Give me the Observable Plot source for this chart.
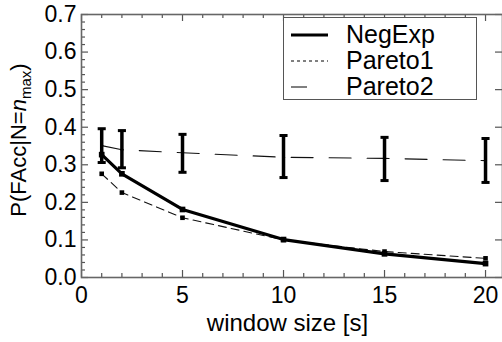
<!DOCTYPE html>
<html><head><meta charset="utf-8">
<script src="https://cdn.jsdelivr.net/npm/d3@7"></script>
<script src="https://cdn.jsdelivr.net/npm/@observablehq/plot@0.6"></script>
<style>
html,body{margin:0;padding:0;background:#fff;}
#wrap{position:relative;width:502px;height:342px;overflow:hidden;font-family:"Liberation Sans",Arial,sans-serif;}
#legend{position:absolute;left:283px;top:17px;width:194px;height:83px;border:1px solid #555;background:#fff;box-sizing:border-box;}
.row{position:absolute;left:0;height:26px;width:100%;}
.row svg{position:absolute;left:6px;top:0;}
.row span{position:absolute;left:62px;top:0;font-size:25px;line-height:26px;color:#000;}
</style></head>
<body><div id="wrap"></div>
<script>
const windowSize = [1, 2, 5, 10, 15, 20];
const negExp  = [0.327, 0.276, 0.181, 0.101, 0.063, 0.037];
const pareto1 = [0.276, 0.226, 0.159, 0.100, 0.069, 0.051];
const pareto2 = [0.351, 0.340, 0.332, 0.320, 0.317, 0.311];
const pareto2Lo = [0.306, 0.292, 0.280, 0.266, 0.258, 0.253];
const pareto2Hi = [0.396, 0.391, 0.381, 0.378, 0.373, 0.370];
const xTicks = [0, 5, 10, 15, 20];
const xMinor = d3.range(0, 21, 1);
const yTicks = [0, 0.1, 0.2, 0.3, 0.4, 0.5, 0.6, 0.7];
const yMinor = d3.range(0, 0.701, 0.02);

const neg = windowSize.map((x,i)=>({x, y:negExp[i]}));
const p1 = windowSize.map((x,i)=>({x, y:pareto1[i]}));
const p2 = windowSize.map((x,i)=>({x, y:pareto2[i], lo:pareto2Lo[i], hi:pareto2Hi[i]}));

const X1 = 20.84, Y1 = 0.7;
const xMaj = 7/20.2, xMin = 4/20.2;   // tick lengths in x units (for y ticks)
const yMaj = 7/375.7, yMin = 4/375.7; // tick lengths in y units (for x ticks)

const chart = Plot.plot({
  width: 502, height: 342,
  marginLeft: 81, marginRight: 0, marginTop: 14, marginBottom: 65,
  style: {fontFamily: '"Liberation Sans", Arial, sans-serif', background: "white"},
  x: {domain: [0, X1]},
  y: {domain: [0, Y1]},
  marks: [
    Plot.ruleX(xMinor, {x: d=>d, y1: 0, y2: d=> xTicks.includes(d) ? yMaj : yMin, stroke: "#555", strokeWidth: 1.2}),
    Plot.ruleX(xMinor, {x: d=>d, y1: Y1, y2: d=> Y1 - (xTicks.includes(d) ? yMaj : yMin), stroke: "#555", strokeWidth: 1.2}),
    Plot.ruleY(yMinor, {y: d=>d, x1: 0, x2: (d,i)=> (i % 5 === 0) ? xMaj : xMin, stroke: "#555", strokeWidth: 1.2}),
    Plot.ruleY(yTicks, {y: d=>d, x1: X1, x2: X1 - xMaj, stroke: "#555", strokeWidth: 1.2}),
    Plot.frame({stroke: "#666", strokeWidth: 1.6}),
    Plot.axisX(xTicks, {tickSize: 0, tickPadding: 9, fontSize: 23, label: null}),
    Plot.axisY(yTicks, {tickSize: 0, tickPadding: 5, fontSize: 23, tickFormat: d3.format(".1f"), label: null}),
    Plot.line(p2, {x: "x", y: "y", stroke: "#111", strokeWidth: 1.1, strokeDasharray: "22,16"}),
    Plot.ruleX(p2, {x: "x", y1: "lo", y2: "hi", stroke: "#000", strokeWidth: 3.5}),
    Plot.link(p2, {x1: d=>d.x-0.2, x2: d=>d.x+0.2, y1: "hi", y2: "hi", stroke: "#000", strokeWidth: 3}),
    Plot.link(p2, {x1: d=>d.x-0.2, x2: d=>d.x+0.2, y1: "lo", y2: "lo", stroke: "#000", strokeWidth: 3}),
    Plot.dot(p2, {x: "x", y: "y", r: 1.5, fill: "#000"}),
    Plot.line(p1, {x: "x", y: "y", stroke: "#111", strokeWidth: 1.1, strokeDasharray: "8,5"}),
    Plot.dot(p1, {x: "x", y: "y", symbol: "square", r: 2.6, fill: "#000"}),
    Plot.line(neg, {x: "x", y: "y", stroke: "#000", strokeWidth: 3.2}),
    Plot.dot(neg, {x: "x", y: "y", symbol: "square", r: 3.2, fill: "#000"})
  ]
});
const wrap = document.getElementById("wrap");
wrap.appendChild(chart);

const xl = document.createElement("div");
xl.textContent = "window size [s]";
xl.style.cssText = "position:absolute;left:77px;width:421px;top:309px;text-align:center;font-size:24px;line-height:28px;color:#000;";
wrap.appendChild(xl);

const yl = document.createElement("div");
yl.innerHTML = 'P(FAcc|N=<i>n</i><sub style="font-size:15px;vertical-align:-5px;">max</sub>)';
yl.style.cssText = "position:absolute;left:22px;top:140px;transform:translate(-50%,-50%) rotate(-90deg);white-space:nowrap;font-size:22px;line-height:26px;color:#000;";
wrap.appendChild(yl);

const legend = document.createElement("div");
legend.id = "legend";
const items = [
  {name: "NegExp", w: 3.2, dash: null},
  {name: "Pareto1", w: 1, dash: "3,3"},
  {name: "Pareto2", w: 1, dash: "16,30"}
];
items.forEach((it, i) => {
  const row = document.createElement("div");
  row.className = "row";
  row.style.top = (3 + i*26) + "px";
  row.innerHTML = `<svg width="40" height="26"><line x1="1" x2="38" y1="14" y2="14" stroke="#000" stroke-width="${it.w}" ${it.dash ? `stroke-dasharray="${it.dash}"` : ""}/></svg><span>${it.name}</span>`;
  legend.appendChild(row);
});
wrap.appendChild(legend);
</script></body></html>
